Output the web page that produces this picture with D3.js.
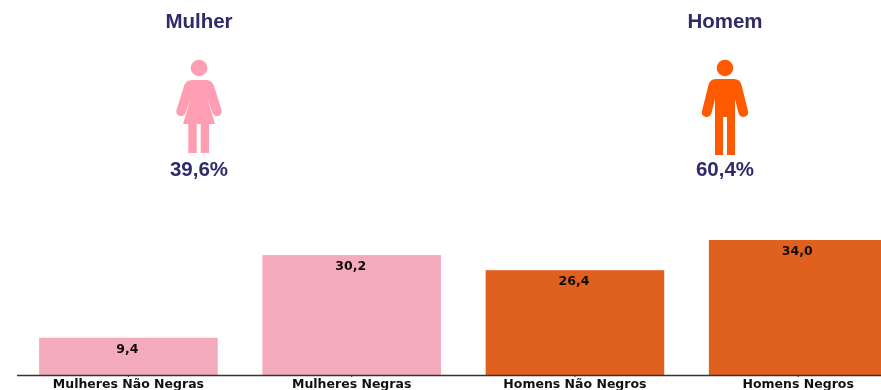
<!DOCTYPE html>
<html><head><meta charset="utf-8">
<script src="https://cdn.jsdelivr.net/npm/d3@7/dist/d3.min.js"></script>
<style>html,body{margin:0;padding:0;background:#fff;overflow:hidden}svg{display:block;filter:blur(0.45px)}</style>
</head><body><svg id="c" width="881" height="390"></svg>
<script>
const categories=["Mulheres Não Negras","Mulheres Negras","Homens Não Negros","Homens Negros"];
const values=[9.4,30.2,26.4,34.0];
const valueLabels=["9,4","30,2","26,4","34,0"];
const barColors=["#f4abbc","#f4abbc","#e06020","#e06020"];
const groupNames=["Mulher","Homem"];
const groupShares=["39,6%","60,4%"];
const groupColors=["#ff9db3","#ff5a00"];
const groupCenters=[199,725];

const svg=d3.select("#c");
const x=d3.scaleBand().domain(categories).range([16.8,909.8]).paddingInner(0.2).paddingOuter(0.1);
const y=d3.scaleLinear().domain([0,34]).range([375,240]);

svg.selectAll("rect.bar").data(values).join("rect").attr("class","bar")
  .attr("x",(d,i)=>x(categories[i])).attr("width",x.bandwidth())
  .attr("y",d=>y(d)).attr("height",d=>y(0)-y(d)).attr("fill",(d,i)=>barColors[i]);

const axis=svg.append("g").attr("transform","translate(0,375)")
  .call(d3.axisBottom(x).tickSize(2).tickPadding(2));
axis.select(".domain").attr("stroke","#333").attr("stroke-width",1.4).attr("d","M17,0.5H910");
axis.selectAll(".tick line").attr("stroke","#333");
axis.selectAll("text").attr("font-family","'DejaVu Sans'").attr("font-weight","bold")
  .attr("font-size",12.5).attr("fill","#111");

svg.selectAll("text.val").data(values).join("text").attr("class","val")
  .attr("x",(d,i)=>x(categories[i])+x.bandwidth()/2-1).attr("y",d=>y(d)+15)
  .attr("text-anchor","middle").attr("font-family","'DejaVu Sans'").attr("font-weight","bold")
  .attr("font-size",12.5).attr("fill","#120a04").text((d,i)=>valueLabels[i]);

const female="M-6,12 C-11,12 -13.5,14 -15,18 L-22.5,42 C-24,49 -15,50 -13.5,45 L-8,30 L-16,56 L-10.7,56 L-10.7,85 L-2.3,85 L-2.3,56 L1.7,56 L1.7,85 L10,85 L10,56 L16,56 L8,30 L13.5,45 C15,50 24,49 22.5,42 L15,18 C13.5,14 11,12 6,12 Z";
const male="M-8,11 C-13,11 -15.5,13 -16.5,17 L-23,43 C-24.5,50 -15,51 -13.5,45 L-10,31 L-10,87 L-2,87 L-2,49 L2,49 L2,87 L10,87 L10,31 L13.5,45 C15,51 24.5,50 23,43 L16.5,17 C15.5,13 13,11 8,11 Z";
const icons=[female,male];

const g=svg.selectAll("g.grp").data(groupNames).join("g").attr("class","grp")
  .attr("transform",(d,i)=>`translate(${groupCenters[i]},0)`);
g.append("text").attr("y",28).attr("text-anchor","middle").attr("font-family","'Liberation Sans'")
  .attr("font-weight","bold").attr("font-size",20.5).attr("fill","#2f2a6a").text(d=>d);
g.append("circle").attr("cy",68).attr("r",8.3).attr("fill",(d,i)=>groupColors[i]);
g.append("path").attr("transform","translate(0,68)").attr("d",(d,i)=>icons[i]).attr("fill",(d,i)=>groupColors[i]);
g.append("text").attr("y",176).attr("text-anchor","middle").attr("font-family","'Liberation Sans'")
  .attr("font-weight","bold").attr("font-size",20.5).attr("fill","#2f2a6a").text((d,i)=>groupShares[i]);
</script></body></html>
